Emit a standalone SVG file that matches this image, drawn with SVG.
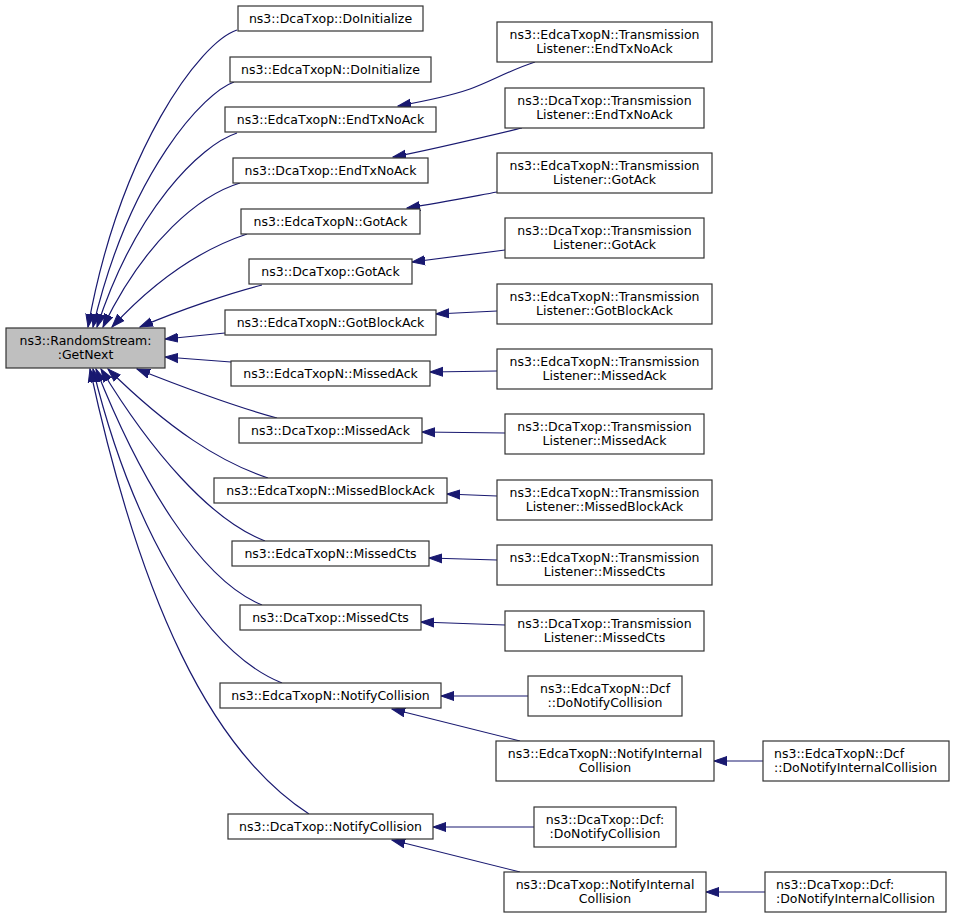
<svg xmlns="http://www.w3.org/2000/svg" width="955" height="917" viewBox="0 0 955 917">
<style>
.nd rect{fill:#fff;stroke:#333;stroke-width:1.2}
.root rect{fill:#bfbfbf}
text{font-family:"DejaVu Sans","Liberation Sans",sans-serif;font-size:12.5px;fill:#000;text-anchor:middle}
text.l{text-anchor:start}
.e path{fill:none;stroke:#191970;stroke-width:1.2;marker-end:url(#ah)}
</style>
<defs>
<marker id="ah" markerUnits="userSpaceOnUse" markerWidth="14" markerHeight="12" viewBox="0 -6 14 12" refX="13" refY="0" orient="auto">
<path d="M0,-4.5 L13,0 L0,4.5 z" fill="#191970" stroke="#191970" stroke-width="1"/>
</marker>
</defs>
<rect width="955" height="917" fill="#fff"/>
<g id="edges" class="e">
<path d="M237,30 C200,42 120,150 88,327"/>
<path d="M234,82 C205,92 130,170 93,327"/>
<path d="M237,133 C200,145 135,210 97,327"/>
<path d="M240,183 C200,195 145,240 103,327"/>
<path d="M247,234 C205,248 160,275 112,327"/>
<path d="M262,285 C230,293 180,310 140,327"/>
<path d="M225,333 L165,339"/>
<path d="M231,362 L165,357"/>
<path d="M277,418 C240,408 190,390 137,369"/>
<path d="M268,478 C220,462 170,430 108,369"/>
<path d="M265,541 C210,520 150,450 101,369"/>
<path d="M262,605 C200,580 140,480 96,369"/>
<path d="M282,683 C200,650 130,520 93,369"/>
<path d="M309,814 C210,750 140,600 90,369"/>
<path d="M535,62 C510,70 490,82 470,89 C450,96 420,102 398,106"/>
<path d="M522,128 C480,138 430,150 393,157"/>
<path d="M497,192 C470,197 440,203 407,208"/>
<path d="M505,250 L412,262"/>
<path d="M497,311 L436,314"/>
<path d="M497,371 L430,372"/>
<path d="M505,433 L422,432"/>
<path d="M497,496 L447,494"/>
<path d="M497,560 L429,558"/>
<path d="M505,625 L421,622"/>
<path d="M528,696 L441,696"/>
<path d="M520,741 L392,709"/>
<path d="M763,761 L714,761"/>
<path d="M534,827 L433,827"/>
<path d="M520,872 L392,840"/>
<path d="M765,892 L706,892"/>
</g>
<g id="n0" class="nd root"><rect x="6" y="328" width="159" height="40"/><text x="85.5" y="344.5">ns3::RandomStream:</text><text x="85.5" y="359">:GetNext</text></g>
<g id="n1" class="nd"><rect x="238" y="6" width="185" height="25"/><text x="330.5" y="23">ns3::DcaTxop::DoInitialize</text></g>
<g id="n2" class="nd"><rect x="230" y="57" width="201" height="25"/><text x="330.5" y="74">ns3::EdcaTxopN::DoInitialize</text></g>
<g id="n3" class="nd"><rect x="225" y="107" width="211" height="25"/><text x="330.5" y="124">ns3::EdcaTxopN::EndTxNoAck</text></g>
<g id="n4" class="nd"><rect x="233" y="158" width="195" height="25"/><text x="330.5" y="175">ns3::DcaTxop::EndTxNoAck</text></g>
<g id="n5" class="nd"><rect x="241" y="209" width="179" height="25"/><text x="330.5" y="226">ns3::EdcaTxopN::GotAck</text></g>
<g id="n6" class="nd"><rect x="249" y="259" width="163" height="25"/><text x="330.5" y="276">ns3::DcaTxop::GotAck</text></g>
<g id="n7" class="nd"><rect x="225" y="310" width="211" height="25"/><text x="330.5" y="327">ns3::EdcaTxopN::GotBlockAck</text></g>
<g id="n8" class="nd"><rect x="231" y="361" width="199" height="25"/><text x="330.5" y="378">ns3::EdcaTxopN::MissedAck</text></g>
<g id="n9" class="nd"><rect x="239" y="418" width="183" height="25"/><text x="330.5" y="435">ns3::DcaTxop::MissedAck</text></g>
<g id="n10" class="nd"><rect x="214" y="478" width="233" height="25"/><text x="330.5" y="495">ns3::EdcaTxopN::MissedBlockAck</text></g>
<g id="n11" class="nd"><rect x="232" y="541" width="197" height="25"/><text x="330.5" y="558">ns3::EdcaTxopN::MissedCts</text></g>
<g id="n12" class="nd"><rect x="240" y="605" width="181" height="25"/><text x="330.5" y="622">ns3::DcaTxop::MissedCts</text></g>
<g id="n13" class="nd"><rect x="220" y="683" width="221" height="25"/><text x="330.5" y="700">ns3::EdcaTxopN::NotifyCollision</text></g>
<g id="n14" class="nd"><rect x="228" y="814" width="205" height="25"/><text x="330.5" y="831">ns3::DcaTxop::NotifyCollision</text></g>
<g id="r1" class="nd"><rect x="497" y="22" width="215" height="40"/><text x="604.5" y="38.5">ns3::EdcaTxopN::Transmission</text><text x="604.5" y="53">Listener::EndTxNoAck</text></g>
<g id="r2" class="nd"><rect x="505" y="88" width="199" height="40"/><text x="604.5" y="104.5">ns3::DcaTxop::Transmission</text><text x="604.5" y="119">Listener::EndTxNoAck</text></g>
<g id="r3" class="nd"><rect x="497" y="153" width="215" height="40"/><text x="604.5" y="169.5">ns3::EdcaTxopN::Transmission</text><text x="604.5" y="184">Listener::GotAck</text></g>
<g id="r4" class="nd"><rect x="505" y="218" width="199" height="40"/><text x="604.5" y="234.5">ns3::DcaTxop::Transmission</text><text x="604.5" y="249">Listener::GotAck</text></g>
<g id="r5" class="nd"><rect x="497" y="284" width="215" height="40"/><text x="604.5" y="300.5">ns3::EdcaTxopN::Transmission</text><text x="604.5" y="315">Listener::GotBlockAck</text></g>
<g id="r6" class="nd"><rect x="497" y="349" width="215" height="40"/><text x="604.5" y="365.5">ns3::EdcaTxopN::Transmission</text><text x="604.5" y="380">Listener::MissedAck</text></g>
<g id="r7" class="nd"><rect x="505" y="414" width="199" height="40"/><text x="604.5" y="430.5">ns3::DcaTxop::Transmission</text><text x="604.5" y="445">Listener::MissedAck</text></g>
<g id="r8" class="nd"><rect x="497" y="480" width="215" height="40"/><text x="604.5" y="496.5">ns3::EdcaTxopN::Transmission</text><text x="604.5" y="511">Listener::MissedBlockAck</text></g>
<g id="r9" class="nd"><rect x="497" y="545" width="215" height="40"/><text x="604.5" y="561.5">ns3::EdcaTxopN::Transmission</text><text x="604.5" y="576">Listener::MissedCts</text></g>
<g id="r10" class="nd"><rect x="505" y="611" width="199" height="40"/><text x="604.5" y="627.5">ns3::DcaTxop::Transmission</text><text x="604.5" y="642">Listener::MissedCts</text></g>
<g id="r11" class="nd"><rect x="528" y="676" width="154" height="40"/><text x="605" y="692.5">ns3::EdcaTxopN::Dcf</text><text x="605" y="707">::DoNotifyCollision</text></g>
<g id="r12" class="nd"><rect x="496" y="741" width="218" height="40"/><text x="605" y="757.5">ns3::EdcaTxopN::NotifyInternal</text><text x="605" y="772">Collision</text></g>
<g id="r13" class="nd"><rect x="763" y="741" width="186" height="40"/><text class="l" x="774" y="757.5">ns3::EdcaTxopN::Dcf</text><text class="l" x="774" y="772">::DoNotifyInternalCollision</text></g>
<g id="r14" class="nd"><rect x="534" y="807" width="142" height="40"/><text x="605" y="823.5">ns3::DcaTxop::Dcf:</text><text x="605" y="838">:DoNotifyCollision</text></g>
<g id="r15" class="nd"><rect x="504" y="872" width="202" height="40"/><text x="605" y="888.5">ns3::DcaTxop::NotifyInternal</text><text x="605" y="903">Collision</text></g>
<g id="r16" class="nd"><rect x="765" y="872" width="181" height="40"/><text class="l" x="776" y="888.5">ns3::DcaTxop::Dcf:</text><text class="l" x="776" y="903">:DoNotifyInternalCollision</text></g>
</svg>
